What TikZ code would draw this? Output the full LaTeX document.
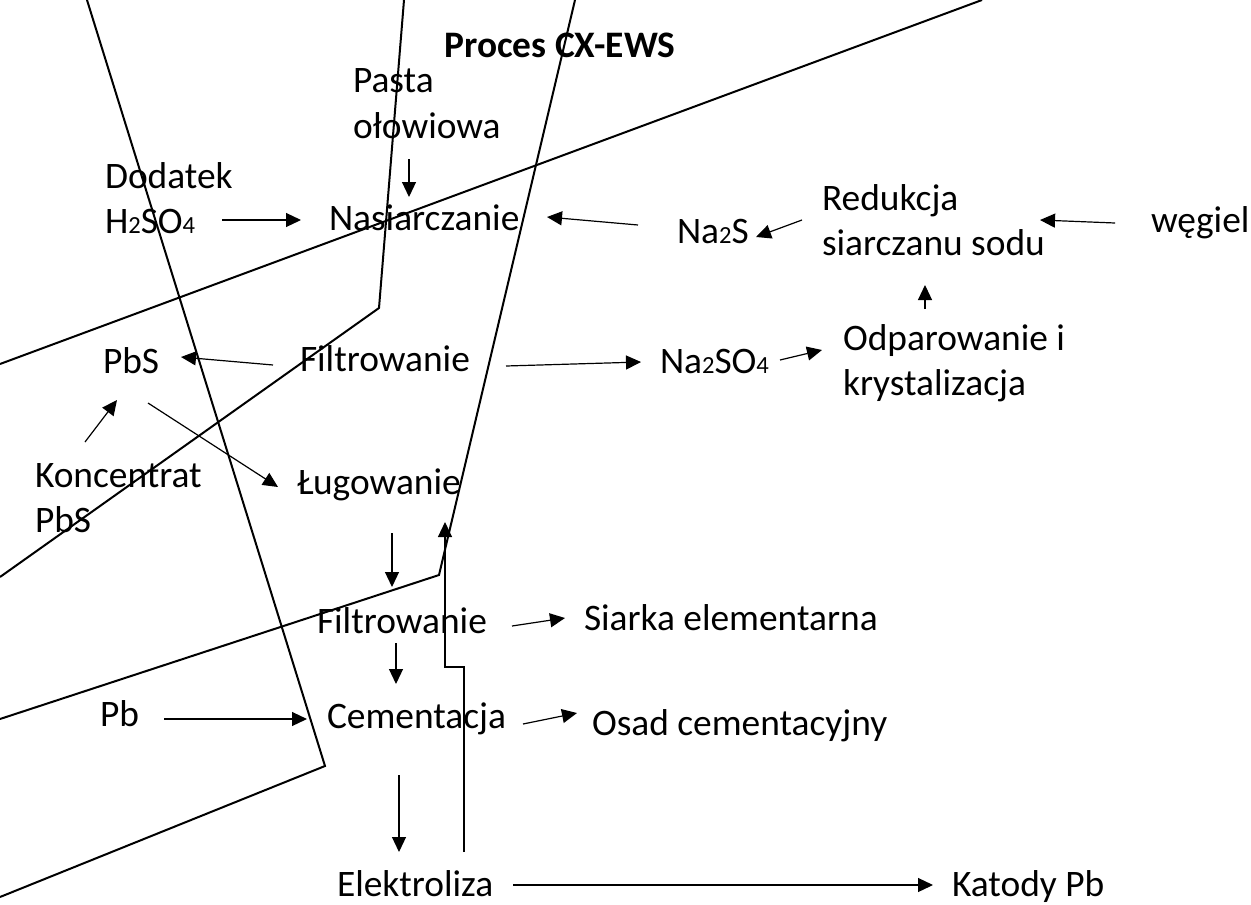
\documentclass[tikz,border=0pt]{standalone}
\usepackage{fontspec}
\setmainfont{Carlito}
\usetikzlibrary{arrows.meta}
\newcommand{\ix}[1]{{\fontsize{12.3}{12.3}\selectfont #1}}

\begin{document}
\begin{tikzpicture}[x=0.5pt, y=-0.5pt,
    lbl/.style={anchor=base west, inner sep=0pt, outer sep=0pt, align=left, font=\fontsize{18.7}{22.5}\selectfont},
    arr/.style={-{Triangle[length=7.5pt, width=7pt]}, line width=0.6pt},
    frame/.style={line width=1pt}]
    \useasboundingbox (0,0) rectangle (1251,904);

    % Outlines
    \draw[frame] (87,0) -- (325,766) -- (0,897);
    \draw[frame] (404,0) -- (379,308) -- (0,577);
    \draw[frame] (575,0) -- (439,575) -- (0,719);
    \draw[frame] (982,0) -- (0,364);

    % Title
    \node[lbl, anchor=base, font=\fontsize{18.7}{22.5}\selectfont\bfseries] (title) at (560,58) {Proces CX-EWS};

    % Top row (two-line labels sit on their last line)
    \node[lbl] (pasta) at (353,138) {Pasta\\ołowiowa};
    \node[lbl] (dodatek) at (105,233) {Dodatek\\H\ix{2}SO\ix{4}};
    \node[lbl] (nasiar) at (329,230) {Nasiarczanie};
    \node[lbl] (naS) at (677,243) {Na\ix{2}S};
    \node[lbl] (redukcja) at (822,255) {Redukcja\\siarczanu sodu};
    \node[lbl] (wegiel) at (1151,232) {węgiel};

    % Second row
    \node[lbl] (pbs) at (103,373) {PbS};
    \node[lbl] (filtrA) at (300,371) {Filtrowanie};
    \node[lbl] (naSO) at (660,373) {Na\ix{2}SO\ix{4}};
    \node[lbl] (odpar) at (843,395) {Odparowanie i\\krystalizacja};

    % Lower part
    \node[lbl] (konc) at (35,532) {Koncentrat\\PbS};
    \node[lbl] (lug) at (297,494) {Ługowanie};
    \node[lbl] (filtrB) at (317,633) {Filtrowanie};
    \node[lbl] (siarka) at (584,630) {Siarka elementarna};
    \node[lbl] (pb) at (100,726) {Pb};
    \node[lbl] (cem) at (327,728) {Cementacja};
    \node[lbl] (osad) at (592,735) {Osad cementacyjny};
    \node[lbl] (elek) at (337,896) {Elektroliza};
    \node[lbl] (katody) at (952,896) {Katody Pb};

    % Arrows
    \draw[arr] ([shift={(56,21)}]pasta.base west) -- ([shift={(80,-33)}]nasiar.base west);
    \draw[arr] ([shift={(117,-13)}]dodatek.base west) -- ([shift={(-28,-10)}]nasiar.base west);
    \draw[arr] ([shift={(-39,-18)}]naS.base west) -- ([shift={(218,-13)}]nasiar.base west);
    \draw[arr] ([shift={(-20,-35)}]redukcja.base west) -- ([shift={(79,-6)}]naS.base west);
    \draw[arr] ([shift={(-36,-9)}]wegiel.base west) -- ([shift={(218,-35)}]redukcja.base west);
    \draw[arr] ([shift={(82,-86)}]odpar.base west) -- ([shift={(103,30)}]redukcja.base west);
    \draw[arr] ([shift={(206,-5)}]filtrA.base west) -- ([shift={(-19,-11)}]naSO.base west);
    \draw[arr] ([shift={(120,-13)}]naSO.base west) -- ([shift={(-21,-45)}]odpar.base west);
    \draw[arr] ([shift={(-27,-6)}]filtrA.base west) -- ([shift={(78,-16)}]pbs.base west);
    \draw[arr] ([shift={(50,-90)}]konc.base west) -- ([shift={(14,27)}]pbs.base west);
    \draw[arr] ([shift={(45,30)}]pbs.base west) -- ([shift={(-19,-7)}]lug.base west);
    \draw[arr] ([shift={(95,39)}]lug.base west) -- ([shift={(75,-46)}]filtrB.base west);
    \draw[arr] ([shift={(195,-7)}]filtrB.base west) -- ([shift={(-19,-12)}]siarka.base west);
    \draw[arr] ([shift={(79,10)}]filtrB.base west) -- ([shift={(69,-44)}]cem.base west);
    \draw[arr] ([shift={(64,-7)}]pb.base west) -- ([shift={(-20,-9)}]cem.base west);
    \draw[arr] ([shift={(196,-4)}]cem.base west) -- ([shift={(-15,-22)}]osad.base west);
    \draw[arr] ([shift={(72,47)}]cem.base west) -- ([shift={(62,-44)}]elek.base west);
    \draw[arr] ([shift={(176,-11)}]elek.base west) -- ([shift={(-19,-11)}]katody.base west);
    % Return flow
    \draw[arr] ([shift={(127,-44)}]elek.base west) -- ++(0,-185) -- ++(-19,0) -- ([shift={(148,28)}]lug.base west);

\end{tikzpicture}
\end{document}
